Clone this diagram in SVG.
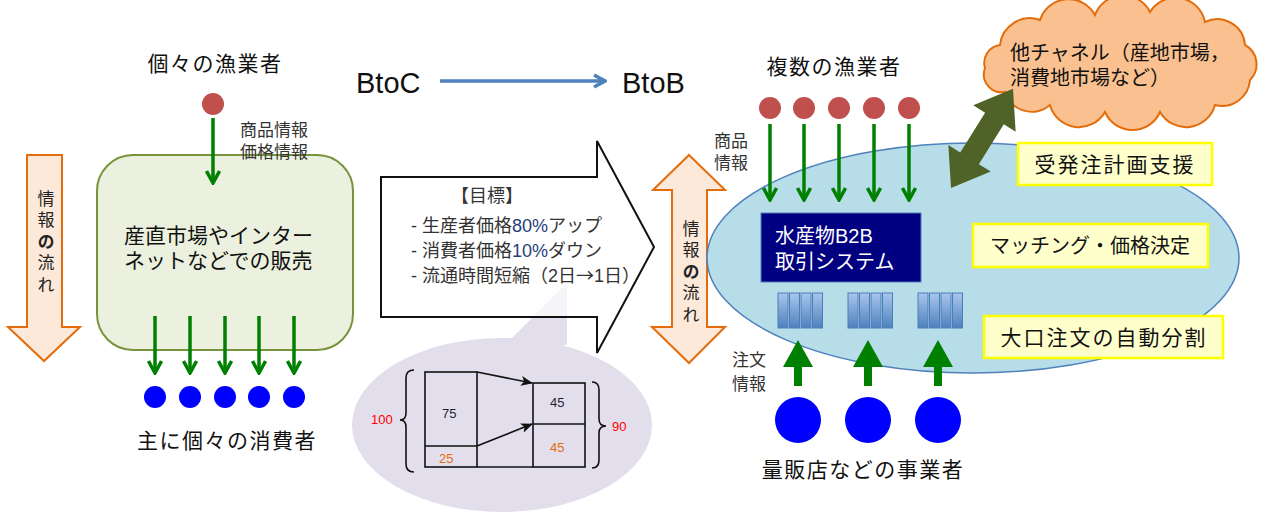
<svg xmlns="http://www.w3.org/2000/svg" width="1271" height="514" viewBox="0 0 1271 514">
<defs>
<style>
.jp{font-family:"Liberation Sans","Noto Sans CJK JP","Noto Sans CJK SC",sans-serif;fill:#111}
.cjk{font-family:"Noto Sans CJK JP","Noto Sans CJK SC",sans-serif}
.lat{font-family:"Liberation Sans",Arial,sans-serif;fill:#111}
.title{font-size:21px;letter-spacing:1.5px}
.small{font-size:17px;fill:#333}
.goal{font-size:18px;fill:#333}
.vert{font-size:17px;fill:#222;writing-mode:vertical-rl;letter-spacing:4.5px}
.num{font-family:"Liberation Sans",Arial,sans-serif;font-size:13px}
.thin{stroke:#008000;stroke-width:3.5;fill:none;marker-end:url(#gv)}
.orange{fill:#fde9d9;stroke:#e46c0a;stroke-width:2}
.yel{fill:#ffffcc;stroke:#ffff00;stroke-width:2.5}
.red{fill:#c0504d}
.blue{fill:#0000ff}
.bar{fill:url(#barg);stroke:#4a7ebb;stroke-width:1}
.gup{fill:#008000}
.blk{stroke:#111;stroke-width:1.6;fill:none}
</style>
<marker id="gv" viewBox="0 0 16 16" refX="14" refY="8" markerWidth="16" markerHeight="16" markerUnits="userSpaceOnUse" orient="auto">
<path d="M2,1.5 L14,8 L2,14.5" fill="none" stroke="#008000" stroke-width="3.5"/>
</marker>
<marker id="bv" viewBox="0 0 16 16" refX="14" refY="8" markerWidth="16" markerHeight="16" markerUnits="userSpaceOnUse" orient="auto">
<path d="M3,2 L14,8 L3,14" fill="none" stroke="#4f81bd" stroke-width="3.5"/>
</marker>
<marker id="ka" viewBox="0 0 12 12" refX="11" refY="6" markerWidth="12" markerHeight="12" markerUnits="userSpaceOnUse" orient="auto">
<path d="M0,1 L12,6 L0,11 L3,6 Z" fill="#111"/>
</marker>
<linearGradient id="barg" x1="0" y1="0" x2="0" y2="1">
<stop offset="0" stop-color="#a9c6ec"/>
<stop offset="1" stop-color="#4f81bd"/>
</linearGradient>
</defs>

<rect width="1271" height="514" fill="#fff"/>

<g id="left-flow">
<polygon class="orange" points="27,155 62,155 62,327 80,327 44,361 8,327 27,327"/>
<text class="jp vert" x="44" y="190">情報<tspan font-weight="bold">の</tspan>流れ</text>
</g>

<g id="direct-sales">
<rect x="97" y="155" width="256" height="195" rx="36" fill="#ebf1de" stroke="#77933c" stroke-width="2"/>
<text class="jp" font-size="21"><tspan x="124" y="243">産直市場やインター</tspan><tspan x="124" y="268">ネットなどでの販売</tspan></text>
</g>

<g id="individual-fishers">
<text class="jp title" x="215" y="71" text-anchor="middle">個々の漁業者</text>
<circle class="red" cx="213" cy="104" r="11"/>
<text class="jp small"><tspan x="240" y="136">商品情報</tspan><tspan x="240" y="158">価格情報</tspan></text>
</g>

<g id="consumers">
<circle class="blue" cx="155" cy="397" r="11"/>
<circle class="blue" cx="190" cy="397" r="11"/>
<circle class="blue" cx="225" cy="397" r="11"/>
<circle class="blue" cx="259" cy="397" r="11"/>
<circle class="blue" cx="294" cy="397" r="11"/>
<text class="jp title" x="227" y="448" text-anchor="middle">主に個々の消費者</text>
</g>

<g id="btoc-btob">
<text class="lat" font-size="29" x="356" y="93">BtoC</text>
<text class="lat" font-size="29" x="622" y="93">BtoB</text>
</g>

<g id="callout">
<path d="M505,345 L567,283 L567,345 Z" fill="#e3deeb"/>
<ellipse cx="502" cy="425" rx="150" ry="87" fill="#e3deeb"/>
<rect x="425" y="372" width="52" height="95" class="blk"/>
<line x1="425" y1="446" x2="477" y2="446" class="blk"/>
<line x1="477" y1="467" x2="533" y2="467" class="blk"/>
<rect x="533" y="383" width="52" height="84" class="blk"/>
<line x1="533" y1="424" x2="585" y2="424" class="blk"/>
<path d="M414,370 Q406,370 406,378 L406,413 Q406,420 400,420 Q406,420 406,427 L406,464 Q406,472 414,472" class="blk"/>
<path d="M592,382 Q599,382 599,390 L599,419 Q599,426 606,426 Q599,426 599,433 L599,460 Q599,468 592,468" class="blk"/>
<text class="num" x="442" y="418" fill="#1f1f3a">75</text>
<text class="num" x="439" y="463" fill="#e46c0a">25</text>
<text class="num" x="550" y="407" fill="#1f1f3a">45</text>
<text class="num" x="550" y="452" fill="#e46c0a">45</text>
<text class="num" x="371" y="424" fill="#ff0000">100</text>
<text class="num" x="612" y="431" fill="#ff0000">90</text>
</g>

<g id="goal-arrow">
<polygon points="381,177 597,177 597,141 654,247 597,353 597,317 381,317" fill="#fff" fill-opacity="0.65" stroke="#111" stroke-width="2"/>
<text class="jp goal"><tspan x="487" y="202" text-anchor="middle">【目標】</tspan><tspan x="411" y="232">- 生産者価格<tspan fill="#1f3f7a">80%</tspan>アップ</tspan><tspan x="411" y="257">- 消費者価格<tspan fill="#1f3f7a">10%</tspan>ダウン</tspan><tspan x="411" y="282">- 流通時間短縮（2日<tspan class="cjk">→</tspan>1日）</tspan></text>
</g>

<g id="right-flow">
<polygon class="orange" points="689,155 725,190 707,190 707,327 725,327 689,363 652,327 672,327 672,190 653,190"/>
<text class="jp vert" x="689" y="220">情報<tspan font-weight="bold">の</tspan>流れ</text>
</g>

<g id="b2b-area">
<ellipse cx="973" cy="258" rx="266" ry="115" fill="#b7dde8" stroke="#4f81bd" stroke-width="1.5"/>
</g>

<g id="multiple-fishers">
<text class="jp title" x="834" y="74" text-anchor="middle">複数の漁業者</text>
<circle class="red" cx="770" cy="108" r="11"/>
<circle class="red" cx="804" cy="108" r="11"/>
<circle class="red" cx="839" cy="108" r="11"/>
<circle class="red" cx="874" cy="108" r="11"/>
<circle class="red" cx="909" cy="108" r="11"/>
<text class="jp small"><tspan x="714" y="147">商品</tspan><tspan x="714" y="169">情報</tspan></text>
</g>

<g id="b2b-system">
<rect x="761" y="213" width="160" height="69" fill="#000080" stroke="#4f81bd" stroke-width="1"/>
<text class="jp" font-size="20" style="fill:#fff"><tspan x="775" y="243">水産物B2B</tspan><tspan x="775" y="269">取引システム</tspan></text>
</g>

<g id="order-bars">
<rect class="bar" x="778" y="293" width="10" height="35"/>
<rect class="bar" x="789.5" y="293" width="10" height="35"/>
<rect class="bar" x="801" y="293" width="10" height="35"/>
<rect class="bar" x="812.5" y="293" width="10" height="35"/>
<rect class="bar" x="848" y="293" width="10" height="35"/>
<rect class="bar" x="859.5" y="293" width="10" height="35"/>
<rect class="bar" x="871" y="293" width="10" height="35"/>
<rect class="bar" x="882.5" y="293" width="10" height="35"/>
<rect class="bar" x="918" y="293" width="10" height="35"/>
<rect class="bar" x="929.5" y="293" width="10" height="35"/>
<rect class="bar" x="941" y="293" width="10" height="35"/>
<rect class="bar" x="952.5" y="293" width="10" height="35"/>
</g>

<g id="feature-boxes">
<rect class="yel" x="1018" y="143" width="194" height="42"/>
<text class="jp" font-size="21" x="1115" y="172" text-anchor="middle" letter-spacing="2">受発注計画支援</text>
<rect class="yel" x="973" y="224" width="235" height="43"/>
<text class="jp" font-size="20" x="1090" y="253" text-anchor="middle">マッチング・価格決定</text>
<rect class="yel" x="984" y="316" width="239" height="42"/>
<text class="jp" font-size="21" x="1104" y="345" text-anchor="middle" letter-spacing="2">大口注文の自動分割</text>
</g>

<g id="business-buyers">
<circle class="blue" cx="798" cy="420" r="23"/>
<circle class="blue" cx="868" cy="420" r="23"/>
<circle class="blue" cx="938" cy="420" r="23"/>
<text class="jp small"><tspan x="732" y="366">注文</tspan><tspan x="732" y="390">情報</tspan></text>
<text class="jp title" x="863" y="477" text-anchor="middle">量販店などの事業者</text>
</g>

<g id="other-channels">
<path d="M1000,45 A30,30 0 0 1 1040,20 A30,30 0 0 1 1095,15 A30,30 0 0 1 1150,12 A30,30 0 0 1 1205,22 A28,28 0 0 1 1245,45 A22,22 0 0 1 1250,80 A28,28 0 0 1 1215,105 A30,30 0 0 1 1160,112 A30,30 0 0 1 1105,112 A30,30 0 0 1 1050,105 A28,28 0 0 1 1005,92 A18,18 0 0 1 985,68 A18,18 0 0 1 1000,45 Z" fill="#fac090" stroke="#e46c0a" stroke-width="2"/>
<text class="jp" font-size="20"><tspan x="1010" y="60">他チャネル（産地市場，</tspan><tspan x="1010" y="85">消費地市場など）</tspan></text>
</g>

<g id="channel-link">
<polygon transform="translate(951,188) rotate(-58)" points="0,0 35,-25 35,-11 82,-11 82,-25 117,0 82,25 82,11 35,11 35,25" fill="#4f6228"/>
</g>

<g id="connectors">
<line class="thin" x1="213" y1="118" x2="213" y2="183"/>
<line class="thin" x1="155" y1="316" x2="155" y2="373"/>
<line class="thin" x1="190" y1="316" x2="190" y2="373"/>
<line class="thin" x1="225" y1="316" x2="225" y2="373"/>
<line class="thin" x1="259" y1="316" x2="259" y2="373"/>
<line class="thin" x1="294" y1="316" x2="294" y2="373"/>
<line class="thin" x1="770" y1="124" x2="770" y2="200"/>
<line class="thin" x1="804" y1="124" x2="804" y2="200"/>
<line class="thin" x1="839" y1="124" x2="839" y2="200"/>
<line class="thin" x1="874" y1="124" x2="874" y2="200"/>
<line class="thin" x1="909" y1="124" x2="909" y2="200"/>
<line x1="440" y1="81" x2="605" y2="81" stroke="#4f81bd" stroke-width="3.5" marker-end="url(#bv)"/>
<line x1="477" y1="372" x2="532" y2="383" stroke="#111" stroke-width="1.6" marker-end="url(#ka)"/>
<line x1="477" y1="446" x2="532" y2="424" stroke="#111" stroke-width="1.6" marker-end="url(#ka)"/>
<polygon class="gup" points="794,386 802,386 802,367 813,367 798,340 783,367 794,367"/>
<polygon class="gup" points="864,386 872,386 872,367 883,367 868,340 853,367 864,367"/>
<polygon class="gup" points="934,386 942,386 942,367 953,367 938,340 923,367 934,367"/>
</g>
</svg>
